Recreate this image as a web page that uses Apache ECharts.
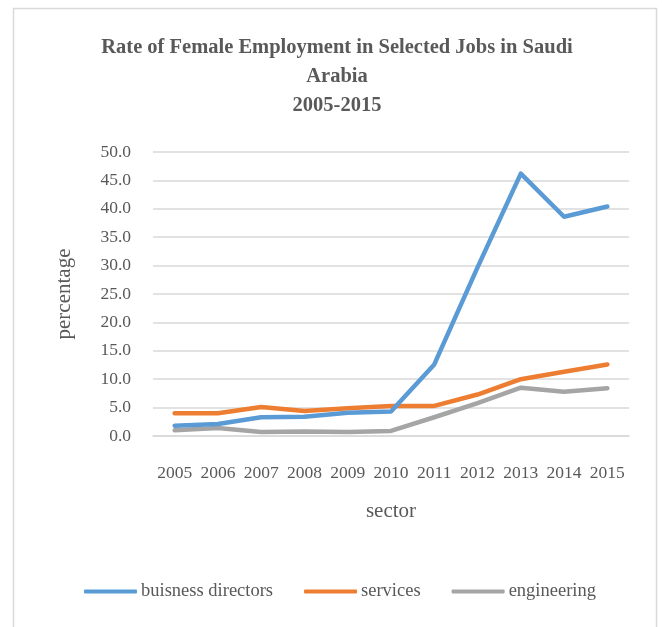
<!DOCTYPE html>
<html>
<head>
<meta charset="utf-8">
<title>Rate of Female Employment in Selected Jobs in Saudi Arabia</title>
<script src="https://cdn.jsdelivr.net/npm/echarts@6/dist/echarts.min.js"></script>
<style>
  html, body { margin: 0; padding: 0; background: #ffffff; }
  #chart { width: 662px; height: 627px; }
</style>
</head>
<body>
<div id="chart"></div>
<script>
// Years on the category axis
const years = ['2005', '2006', '2007', '2008', '2009', '2010', '2011', '2012', '2013', '2014', '2015'];

// Share of women employed (%) per job group
const businessDirectors = [1.8, 2.1, 3.3, 3.4, 4.1, 4.3, 12.6, 29.7, 46.2, 38.6, 40.4];
const services = [4.0, 4.0, 5.1, 4.4, 4.9, 5.3, 5.3, 7.3, 10.0, 11.3, 12.6];
const engineering = [1.0, 1.4, 0.7, 0.8, 0.7, 0.9, 3.3, 5.8, 8.5, 7.8, 8.4];

// Value axis ticks
const yTicks = [0, 5, 10, 15, 20, 25, 30, 35, 40, 45, 50];

const seriesNames = ['buisness directors', 'services', 'engineering'];
const seriesColors = ['#5B9BD5', '#ED7D31', '#A5A5A5'];
const seriesData = [businessDirectors, services, engineering];

const font = '"Liberation Serif", "Times New Roman", serif';
const textColor = '#595959';

const chart = echarts.init(document.getElementById('chart'), null, { renderer: 'canvas' });

chart.setOption({
  animation: false,
  backgroundColor: '#ffffff',
  graphic: [{
    type: 'rect',
    shape: { x: 13.5, y: 8.5, width: 643, height: 640 },
    style: { fill: 'none', stroke: '#D9D9D9', lineWidth: 1.5 },
    silent: true,
    z: -1
  }],
  title: {
    text: 'Rate of Female Employment in Selected Jobs in Saudi\nArabia\n2005-2015',
    left: 332,
    top: 28,
    textAlign: 'center',
    textStyle: {
      fontFamily: font,
      fontWeight: 'bold',
      fontSize: 20.5,
      lineHeight: 29,
      color: textColor
    }
  },
  legend: {
    data: seriesNames,
    bottom: 21,
    left: 79,
    icon: 'roundRect',
    itemWidth: 53,
    itemHeight: 4,
    itemGap: 31,
    textStyle: { fontFamily: font, fontSize: 18.5, color: textColor, padding: [0, 0, 0, -1] }
  },
  grid: { left: 153, right: 33, top: 152, bottom: 191, containLabel: false },
  xAxis: {
    type: 'category',
    data: years,
    boundaryGap: true,
    name: 'sector',
    nameLocation: 'middle',
    nameGap: 65,
    nameTextStyle: { fontFamily: font, fontSize: 21, color: textColor },
    axisLine: { show: true, lineStyle: { color: '#D9D9D9', width: 1.5 } },
    axisTick: { show: false },
    axisLabel: { fontFamily: font, fontSize: 17.5, color: textColor, margin: 28, interval: 0 },
    splitLine: { show: false }
  },
  yAxis: {
    type: 'value',
    min: yTicks[0],
    max: yTicks[yTicks.length - 1],
    interval: 5,
    name: 'percentage',
    nameLocation: 'middle',
    nameGap: 78,
    nameRotate: 90,
    nameTextStyle: { fontFamily: font, fontSize: 21, color: textColor },
    axisLine: { show: false },
    axisTick: { show: false },
    axisLabel: {
      fontFamily: font, fontSize: 17.5, color: textColor, margin: 22,
      formatter: v => v.toFixed(1)
    },
    splitLine: { show: true, lineStyle: { color: '#D9D9D9', width: 1.5 } }
  },
  series: seriesNames.map((name, i) => ({
    name: name,
    type: 'line',
    data: seriesData[i],
    showSymbol: false,
    symbol: 'none',
    lineStyle: { color: seriesColors[i], width: 4.5, cap: 'round', join: 'round' },
    itemStyle: { color: seriesColors[i] },
    z: 3 - i
  }))
});
</script>
</body>
</html>
